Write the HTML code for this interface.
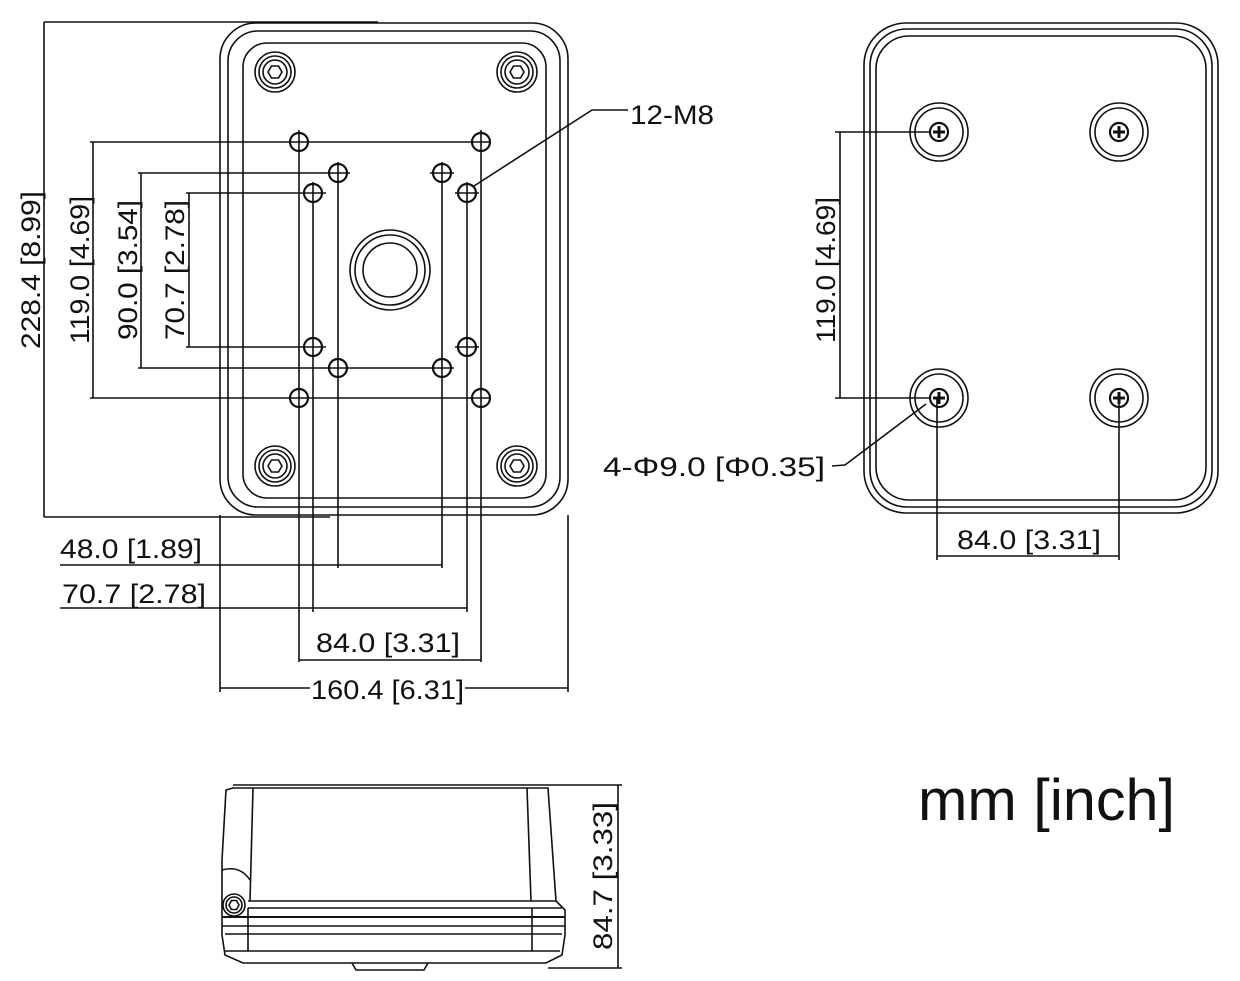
<!DOCTYPE html>
<html><head><meta charset="utf-8"><style>
html,body{margin:0;padding:0;background:#fff;}
svg{display:block;}
text{font-family:"Liberation Sans Narrow","Liberation Sans",sans-serif;fill:#111;}
</style></head><body>
<svg width="1240" height="981" viewBox="0 0 1240 981" xmlns="http://www.w3.org/2000/svg">
<g fill="none" stroke="#111" stroke-width="1.6">
<!-- MAIN TOP VIEW -->
<rect x="220" y="23" width="348" height="492" rx="36"/>
<rect x="228" y="31" width="332" height="476" rx="30"/>
<rect x="243" y="43" width="303" height="455" rx="24"/>
<!-- corner screws -->
<g id="cs"><circle cx="275" cy="72" r="20"/><circle cx="275" cy="72" r="16"/><circle cx="275" cy="72" r="12"/>
<polygon points="268,72 271.5,66 278.5,66 282,72 278.5,78 271.5,78"/></g>
<use href="#cs" x="242"/><use href="#cs" y="394"/><use href="#cs" x="242" y="394"/>
<!-- center hole -->
<circle cx="390" cy="270" r="40"/><circle cx="390" cy="270" r="35"/><circle cx="390" cy="270" r="27"/>
<!-- holes -->
<g stroke-width="2.2">
<circle cx="299" cy="142" r="9"/><circle cx="481" cy="142" r="9"/><circle cx="299" cy="398" r="9"/><circle cx="481" cy="398" r="9"/>
<circle cx="338" cy="173" r="9"/><circle cx="442" cy="173" r="9"/><circle cx="338" cy="368" r="9"/><circle cx="442" cy="368" r="9"/>
<circle cx="313" cy="193" r="9"/><circle cx="467" cy="193" r="9"/><circle cx="313" cy="347" r="9"/><circle cx="467" cy="347" r="9"/>
</g>
<!-- dims left -->
<line x1="44" y1="22" x2="44" y2="517"/><line x1="44" y1="22" x2="378" y2="22"/><line x1="44" y1="517" x2="330" y2="517"/>
<line x1="93" y1="142" x2="93" y2="398"/><line x1="90" y1="142" x2="490" y2="142"/><line x1="90" y1="398" x2="490" y2="398"/>
<line x1="141" y1="173" x2="141" y2="368"/><line x1="138" y1="173" x2="350" y2="173"/><line x1="138" y1="368" x2="454" y2="368"/>
<line x1="189" y1="193" x2="189" y2="347"/><line x1="186" y1="193" x2="326" y2="193"/><line x1="186" y1="347" x2="326" y2="347"/>
<line x1="430" y1="173" x2="454" y2="173"/><line x1="455" y1="193" x2="479" y2="193"/><line x1="455" y1="347" x2="479" y2="347"/>
<!-- verticals -->
<line x1="299" y1="130" x2="299" y2="662"/><line x1="481" y1="130" x2="481" y2="662"/>
<line x1="338" y1="162" x2="338" y2="568"/><line x1="442" y1="162" x2="442" y2="568"/>
<line x1="313" y1="182" x2="313" y2="612"/><line x1="467" y1="182" x2="467" y2="612"/>
<line x1="220" y1="515" x2="220" y2="692"/><line x1="568" y1="515" x2="568" y2="692"/>
<!-- bottom dims -->
<line x1="60" y1="565" x2="442" y2="565"/>
<line x1="60" y1="608" x2="467" y2="608"/>
<line x1="299" y1="660" x2="481" y2="660"/>
<line x1="220" y1="688" x2="310" y2="688"/><line x1="465" y1="688" x2="568" y2="688"/>
<!-- 12-M8 leader -->
<polyline points="474,186 592,110 628,110"/>
<!-- RIGHT VIEW -->
<rect x="864" y="23" width="354" height="490" rx="42"/>
<rect x="870" y="29" width="342" height="478" rx="37"/>
<rect x="876" y="36" width="330" height="464" rx="33"/>
<g id="sh"><circle cx="939" cy="132" r="29"/><circle cx="939" cy="132" r="24"/><circle cx="939" cy="132" r="9" stroke-width="2.2"/>
<path d="M933 132h12M939 126v12" stroke-width="3"/></g>
<use href="#sh" x="180"/><use href="#sh" y="266"/><use href="#sh" x="180" y="266"/>
<line x1="840" y1="132" x2="840" y2="398"/><line x1="835" y1="132" x2="930" y2="132"/><line x1="835" y1="398" x2="930" y2="398"/>
<line x1="937" y1="398" x2="937" y2="560"/><line x1="1119" y1="398" x2="1119" y2="560"/><line x1="937" y1="556" x2="1119" y2="556"/>
<polyline points="832,466 845,465 926,404"/>
<!-- BOTTOM VIEW -->
<line x1="233" y1="785" x2="548" y2="785"/>
<path d="M233 788 L226 790 L222 860 L222 935 L225 955 L243 963 L546 963 L562 955 L565 935 L565 910 L556 901 L548 788 Z"/>
<path d="M253 788 L250 901"/><path d="M527 788 L531 901"/>
<path d="M248 901 L556 901"/><path d="M248 908 L562 908"/><path d="M222 917 L565 917" stroke-width="2"/><path d="M222 926 L565 926"/><path d="M225 934 L562 934"/>
<path d="M225 951 L560 951"/><path d="M248 908 L248 951"/><path d="M532 908 L532 951"/>
<path d="M222 870 Q240 865 250 880"/>
<circle cx="234" cy="905" r="11"/><circle cx="234" cy="905" r="8"/>
<polygon points="229,905 231.5,900.5 236.5,900.5 239,905 236.5,909.5 231.5,909.5"/>
<path d="M352 963 L356 970 L424 970 L428 963"/>
<line x1="548" y1="785" x2="622" y2="785"/><line x1="548" y1="968" x2="622" y2="968"/><line x1="618" y1="785" x2="618" y2="968"/>
</g>
<!-- texts -->
<g font-size="27">
<text transform="translate(40,270) rotate(-90)" text-anchor="middle" textLength="158" lengthAdjust="spacingAndGlyphs">228.4 [8.99]</text>
<text transform="translate(89,270) rotate(-90)" text-anchor="middle" textLength="148" lengthAdjust="spacingAndGlyphs">119.0 [4.69]</text>
<text transform="translate(137,270) rotate(-90)" text-anchor="middle" textLength="140" lengthAdjust="spacingAndGlyphs">90.0 [3.54]</text>
<text transform="translate(184,270) rotate(-90)" text-anchor="middle" textLength="140" lengthAdjust="spacingAndGlyphs">70.7 [2.78]</text>
<text x="60" y="558" textLength="142" lengthAdjust="spacingAndGlyphs">48.0 [1.89]</text>
<text x="62" y="603" textLength="144" lengthAdjust="spacingAndGlyphs">70.7 [2.78]</text>
<text x="316" y="652" textLength="144" lengthAdjust="spacingAndGlyphs">84.0 [3.31]</text>
<text x="311" y="699" textLength="153" lengthAdjust="spacingAndGlyphs">160.4 [6.31]</text>
<text x="630" y="124" textLength="84" lengthAdjust="spacingAndGlyphs">12-M8</text>
<text transform="translate(835,270) rotate(-90)" text-anchor="middle" textLength="146" lengthAdjust="spacingAndGlyphs">119.0 [4.69]</text>
<text x="957" y="549" textLength="144" lengthAdjust="spacingAndGlyphs">84.0 [3.31]</text>
<text x="603" y="476" textLength="222" lengthAdjust="spacingAndGlyphs">4-Φ9.0 [Φ0.35]</text>
<text transform="translate(612,876) rotate(-90)" text-anchor="middle" textLength="148" lengthAdjust="spacingAndGlyphs">84.7 [3.33]</text>
</g>
<text x="918" y="820" font-size="58" textLength="257" lengthAdjust="spacingAndGlyphs">mm [inch]</text>
</svg>
</body></html>
